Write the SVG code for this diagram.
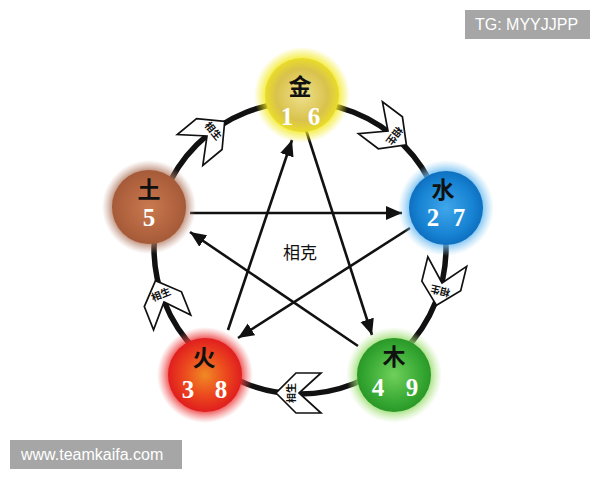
<svg xmlns="http://www.w3.org/2000/svg" xmlns:xlink="http://www.w3.org/1999/xlink" width="600" height="480" viewBox="0 0 600 480">
<style>
.ring{fill:none;stroke:#111;stroke-width:5.5}
.ke{stroke:#111;stroke-width:2.6;fill:none;marker-end:url(#ah)}
.chev{fill:#fff;stroke:#111;stroke-width:1.7;stroke-linejoin:miter}
.clab{font-family:"Noto Sans CJK SC","Noto Sans",sans-serif;font-size:10px;font-weight:700;fill:#111;text-anchor:middle;dominant-baseline:central}
.el{font-family:"Noto Sans CJK SC",sans-serif;font-size:23px;font-weight:700;fill:#111;text-anchor:middle}
.num{font-family:"Liberation Serif",serif;font-size:25px;font-weight:700;fill:#fff;text-anchor:middle}
.wm{font-family:"Liberation Sans",Arial,sans-serif;font-size:16px;fill:#fff}
</style>
<defs>
<marker id="ah" markerUnits="userSpaceOnUse" markerWidth="20" markerHeight="16" refX="16" refY="7" orient="auto">
<path d="M0,0 L16,7 L0,14 Z" fill="#111"/>
</marker>
<polygon id="chv" points="23,0 3,-20 -22,-20 0,0 -22,20 3,20"/>
<radialGradient id="gJ"><stop offset="0" stop-color="#efe08e"/><stop offset="0.7" stop-color="#d9c24c"/><stop offset="1" stop-color="#e9dc2a"/></radialGradient>
<radialGradient id="hJ"><stop offset="0.7" stop-color="#f3ea20" stop-opacity="1"/><stop offset="1" stop-color="#f3ea20" stop-opacity="0"/></radialGradient>
<radialGradient id="gS"><stop offset="0" stop-color="#3fa6ea"/><stop offset="0.75" stop-color="#1682d2"/><stop offset="1" stop-color="#0f6fc0"/></radialGradient>
<radialGradient id="hS"><stop offset="0.7" stop-color="#5db4ee" stop-opacity="1"/><stop offset="1" stop-color="#8cccf4" stop-opacity="0"/></radialGradient>
<radialGradient id="gM"><stop offset="0" stop-color="#6fd05a"/><stop offset="0.75" stop-color="#36a833"/><stop offset="1" stop-color="#2a9828"/></radialGradient>
<radialGradient id="hM"><stop offset="0.7" stop-color="#8ad860" stop-opacity="1"/><stop offset="1" stop-color="#b8e890" stop-opacity="0"/></radialGradient>
<radialGradient id="gH"><stop offset="0" stop-color="#f08a24"/><stop offset="0.55" stop-color="#ec4a1e"/><stop offset="1" stop-color="#e01e1e"/></radialGradient>
<radialGradient id="hH"><stop offset="0.7" stop-color="#ea2a2a" stop-opacity="1"/><stop offset="1" stop-color="#f06060" stop-opacity="0"/></radialGradient>
<radialGradient id="gT"><stop offset="0" stop-color="#c8794f"/><stop offset="0.75" stop-color="#b0623e"/><stop offset="1" stop-color="#a55a38"/></radialGradient>
<radialGradient id="hT"><stop offset="0.7" stop-color="#a86a4c" stop-opacity="1"/><stop offset="1" stop-color="#c09080" stop-opacity="0"/></radialGradient>
</defs>
<rect width="600" height="480" fill="#fff"/>
<g id="connectors">
<circle class="ring" cx="300" cy="248" r="146"/>
<line class="ke" x1="306" y1="130" x2="372" y2="335"/>
<line class="ke" x1="358" y1="346" x2="190" y2="232"/>
<line class="ke" x1="190" y1="213" x2="402" y2="213"/>
<line class="ke" x1="410" y1="228" x2="238" y2="338"/>
<line class="ke" x1="228" y1="330" x2="292" y2="140"/>
</g>
<g id="node-jin">
<circle cx="302" cy="95" r="48" fill="url(#hJ)"/>
<circle cx="302" cy="95" r="37" fill="url(#gJ)"/>
<text class="el" x="300" y="95">金</text>
<text class="num" x="287" y="125">1</text><text class="num" x="314" y="125">6</text>
</g>
<g id="node-shui">
<circle cx="446" cy="208" r="48" fill="url(#hS)"/>
<circle cx="446" cy="208" r="37" fill="url(#gS)"/>
<text class="el" x="443" y="198">水</text>
<text class="num" x="433" y="226">2</text><text class="num" x="459" y="226">7</text>
</g>
<g id="node-mu">
<circle cx="394" cy="375" r="48" fill="url(#hM)"/>
<circle cx="394" cy="375" r="37" fill="url(#gM)"/>
<text class="el" x="394" y="365">木</text>
<text class="num" x="378" y="396">4</text><text class="num" x="412" y="396">9</text>
</g>
<g id="node-huo">
<circle cx="205" cy="375" r="48" fill="url(#hH)"/>
<circle cx="205" cy="375" r="37" fill="url(#gH)"/>
<text class="el" x="204" y="366">火</text>
<text class="num" x="188" y="398">3</text><text class="num" x="221" y="398">8</text>
</g>
<g id="node-tu">
<circle cx="149" cy="207" r="47" fill="url(#hT)"/>
<circle cx="149" cy="207" r="37" fill="url(#gT)"/>
<text class="el" x="149" y="198">土</text>
<text class="num" x="149" y="226">5</text>
</g>
<g id="label-ke">
<text x="300" y="259" font-family="Noto Sans CJK SC,sans-serif" font-size="17" fill="#111" text-anchor="middle">相克</text>
</g>
<g id="sheng-arrows">
<g transform="translate(388,131) rotate(37)"><use xlink:href="#chv" class="chev"/><text class="clab" transform="translate(9,0) rotate(90)">相生</text></g>
<g transform="translate(442,283) rotate(103.8)"><use xlink:href="#chv" class="chev"/><text class="clab" transform="translate(9,0) rotate(90)">相生</text></g>
<g transform="translate(299,393) rotate(180)"><use xlink:href="#chv" class="chev"/><text class="clab" transform="translate(9,0) rotate(90)">相生</text></g>
<g transform="translate(164,302) rotate(248.3)"><use xlink:href="#chv" class="chev"/><text class="clab" transform="translate(9,0) rotate(90)">相生</text></g>
<g transform="translate(207,136) rotate(320.4)"><use xlink:href="#chv" class="chev"/><text class="clab" transform="translate(9,0) rotate(90)">相生</text></g>
</g>
<g id="watermarks">
<rect x="465" y="10" width="125" height="29" fill="#a6a6a6"/>
<text class="wm" x="475" y="30">TG: MYYJJPP</text>
<rect x="10" y="440" width="172" height="29" fill="#a6a6a6"/>
<text class="wm" x="21" y="460">www.teamkaifa.com</text>
</g>
</svg>
